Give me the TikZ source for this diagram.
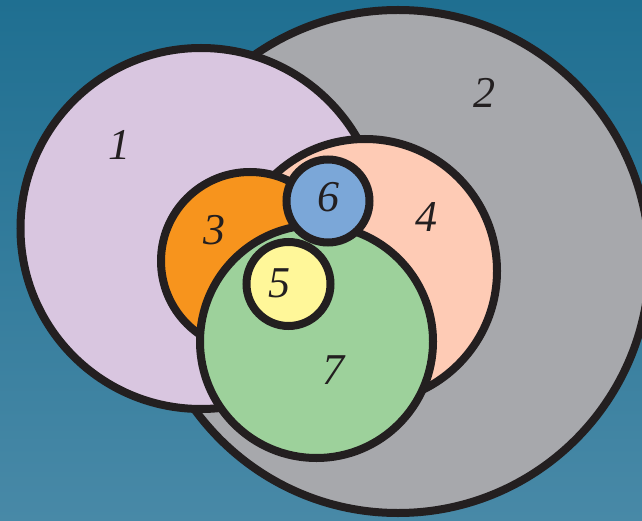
\documentclass[tikz,border=0pt]{standalone}
\usepackage{fontspec}
\setmainfont{Liberation Serif}
\definecolor{ink}{HTML}{231F20}
\definecolor{bgtop}{HTML}{1F6F91}
\definecolor{bgbot}{HTML}{4889A7}
\definecolor{cgray}{HTML}{A7A8AC}
\definecolor{clav}{HTML}{D9C6E0}
\definecolor{cpeach}{HTML}{FECBB5}
\definecolor{corange}{HTML}{F7941D}
\definecolor{cgreen}{HTML}{9DD19B}
\definecolor{cyellow}{HTML}{FFF799}
\definecolor{cblue}{HTML}{7BA7D8}
\begin{document}
\begin{tikzpicture}[x=1pt,y=-1pt,
  ring/.style={draw=ink, line width=8pt},
  lbl/.style={font=\fontsize{44}{44}\selectfont\itshape, text=ink, inner sep=0pt}]
\useasboundingbox (0,0) rectangle (642,521);
\clip (0,0) rectangle (642,521);
\shade[top color=bgtop, bottom color=bgbot] (0,0) rectangle (642,521);
\path[ring, fill=cgray]   (398,261.5) circle[radius=251.5];
\path[ring, fill=clav]    (201,228.5) circle[radius=180.5];
\path[ring, fill=cpeach]  (365,271)   circle[radius=132];
\path[ring, fill=corange] (250,261)   circle[radius=89];
\path[ring, fill=cgreen]  (316.5,341.5) circle[radius=116.5];
\path[ring, fill=cyellow] (288.5,284) circle[radius=42];
\path[ring, fill=cblue]   (328,201)   circle[radius=41.5];
\node[lbl] (l1) at (119,145) {1};
\node[lbl] (l2) at (484,93) {2};
\node[lbl] (l3) at (214,230) {3};
\node[lbl] (l4) at (426,217) {4};
\node[lbl] (l5) at (279,283) {5};
\node[lbl] (l6) at (328,197) {6};
\node[lbl] (l7) at (333,370) {7};
\end{tikzpicture}
\end{document}
